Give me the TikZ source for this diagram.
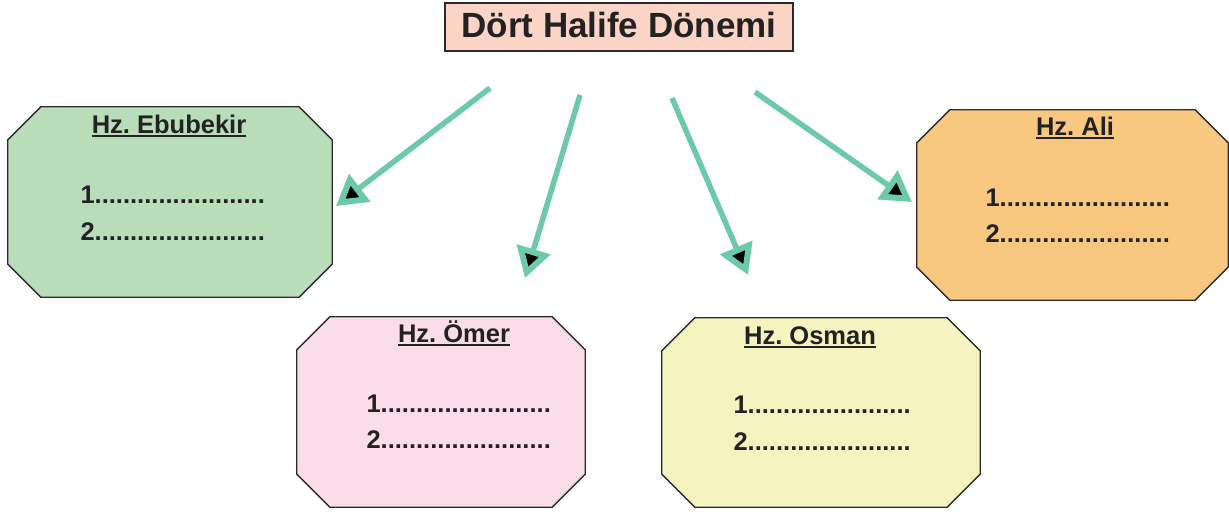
\documentclass[tikz,border=0pt]{standalone}
\usepackage{fontspec}
\setmainfont{Liberation Sans}
\usetikzlibrary{arrows.meta}
\definecolor{baslikrenk}{HTML}{FCD5C6}
\definecolor{yesil}{HTML}{B9DDB9}
\definecolor{pembe}{HTML}{FADDE8}
\definecolor{sari}{HTML}{F5F4C0}
\definecolor{turuncu}{HTML}{F9C880}
\definecolor{okrengi}{HTML}{6CC9A9}
\definecolor{cizgi}{HTML}{2A2A2A}
\definecolor{yazi}{HTML}{222222}
\newcommand\cizgili[1]{\setbox0\hbox{#1}\rlap{\rule[-3.5pt]{\wd0}{1.8pt}}\box0}
\frenchspacing
\begin{document}
\begin{tikzpicture}[x=1pt, y=-1pt, >={Triangle[length=30pt, width=34pt, fill=black, line width=6pt]},
  kutu/.style={rectangle, inner sep=0pt},
  cerceve/.style={draw=cizgi, line width=1.3pt},
  ok/.style={->, line width=5.5pt, draw=okrengi},
  baslik/.style={font=\bfseries\fontsize{25.5}{30}\selectfont, text=yazi, anchor=base},
  satir/.style={font=\bfseries\fontsize{25.5}{30}\selectfont, text=yazi, anchor=base west}]
\useasboundingbox (0,0) rectangle (1229,514);

% ana baslik
\node[cerceve, fill=baslikrenk, minimum width=348pt, text height=25pt, text depth=5pt, minimum height=48pt,
  font=\bfseries\fontsize{35}{40}\selectfont, text=yazi] (donem) at (619,27) {Dört Halife Dönemi};

% kutular
\node[kutu, minimum width=324pt, minimum height=190pt] (ebubekir) at (170,202) {};
\node[kutu, minimum width=288pt, minimum height=190pt] (omer) at (441,412) {};
\node[kutu, minimum width=318pt, minimum height=189pt] (osman) at (821,412.5) {};
\node[kutu, minimum width=311pt, minimum height=190pt] (ali) at (1072.5,205) {};
\foreach \k/\renk in {ebubekir/yesil, omer/pembe, osman/sari, ali/turuncu}
  \draw[cerceve, fill=\renk] ([xshift=33pt]\k.north west) -- ([xshift=-33pt]\k.north east)
    -- ([yshift=-33pt]\k.north east) -- ([yshift=33pt]\k.south east)
    -- ([xshift=-33pt]\k.south east) -- ([xshift=33pt]\k.south west)
    -- ([yshift=33pt]\k.south west) -- ([yshift=-33pt]\k.north west) -- cycle;

% Hz. Ebubekir
\node[baslik] (ebubekir-ad) at (169,133) {\cizgili{Hz. Ebubekir}};
\node[satir] (ebubekir-1) at (77,203) {1........................};
\node[satir] (ebubekir-2) at (77,240) {2........................};

% Hz. Omer
\node[baslik] (omer-ad) at (454,342) {\cizgili{Hz. Ömer}};
\node[satir] (omer-1) at (363,412) {1........................};
\node[satir] (omer-2) at (363,448) {2........................};

% Hz. Osman
\node[baslik] (osman-ad) at (810,344) {\cizgili{Hz. Osman}};
\node[satir] (osman-1) at (730,413) {1.......................};
\node[satir] (osman-2) at (730,450) {2.......................};

% Hz. Ali
\node[baslik] (ali-ad) at (1075,135) {\cizgili{Hz. Ali}};
\node[satir] (ali-1) at (982,206) {1........................};
\node[satir] (ali-2) at (982,242) {2........................};

% oklar
\coordinate (u1) at (490,88);
\coordinate (u2) at (580,95);
\coordinate (u3) at (672,98);
\coordinate (u4) at (755,92);
\coordinate (s1) at (336,206);
\coordinate (s2) at (525,278);
\coordinate (s3) at (748,275);
\coordinate (s4) at (912,202);
\draw[ok] (u1)--(s1);
\draw[ok] (u2)--(s2);
\draw[ok] (u3)--(s3);
\draw[ok] (u4)--(s4);
\end{tikzpicture}
\end{document}
